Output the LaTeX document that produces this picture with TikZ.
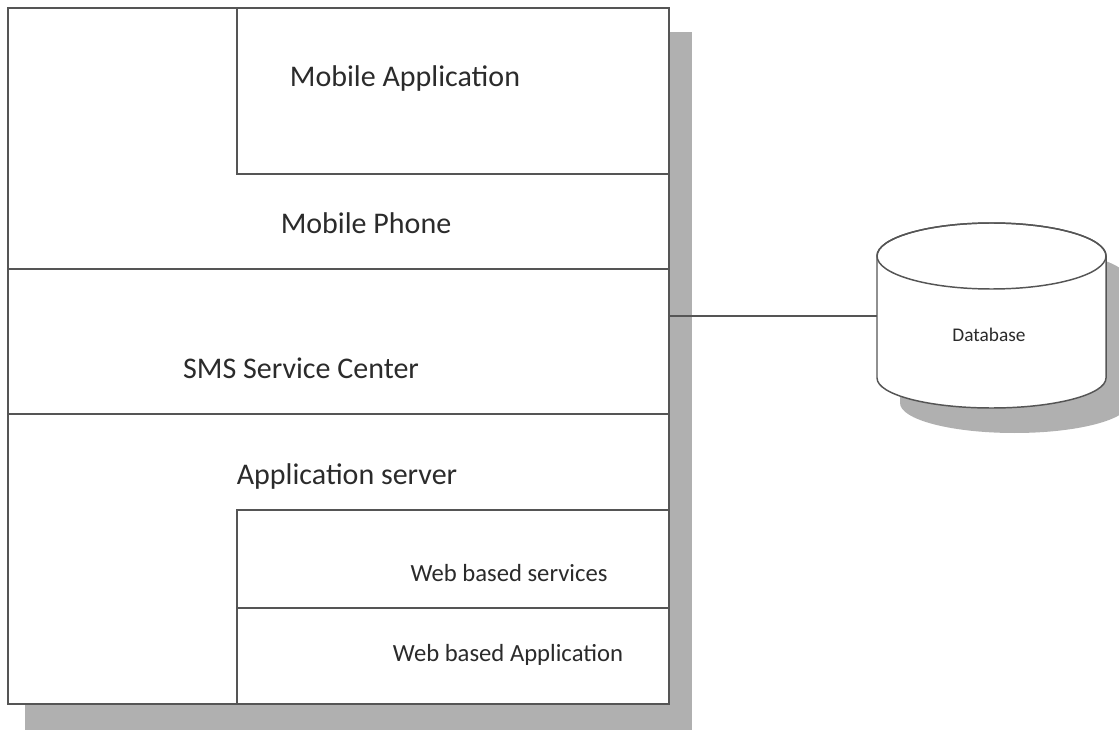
\documentclass[tikz,border=0pt]{standalone}
\usepackage{fontspec}
\setmainfont{Carlito}
\definecolor{shadowgray}{HTML}{B0B0B0}
\definecolor{edge}{HTML}{555555}
\definecolor{ink}{HTML}{2B2B2B}

\begin{document}
\begin{tikzpicture}[x=0.75pt,y=-0.75pt,line width=1.1pt,
    label/.style={text=ink,inner sep=0pt,font=\fontsize{22.5}{26}\selectfont},
    small/.style={text=ink,inner sep=0pt,font=\fontsize{18.5}{22}\selectfont},
    tiny/.style={text=ink,inner sep=0pt,font=\fontsize{14.5}{17}\selectfont}]
          \useasboundingbox (0,0) rectangle (1119,730);
          % Draw shadows
          \fill[shadowgray] (25,32) rectangle (692,730);
          \fill[shadowgray,shift={(23,25)}] (877,256) -- (877,378)
            arc[start angle=180,end angle=0,x radius=114.5,y radius=30]
            -- (1106,256) arc[start angle=0,end angle=-180,x radius=114.5,y radius=33] -- cycle;
          % Draw outer box (Mobile Phone / SMS / Application server)
          \draw[edge,fill=white] (8,8) rectangle (669,704);
          \draw[edge] (8,269) -- (669,269);
          \draw[edge] (8,414) -- (669,414);
          % Draw inner box (Mobile Application)
          \draw[edge] (237,8) -- (237,174) -- (669,174);
          % Draw inner boxes (Web based services / Application)
          \draw[edge] (237,704) -- (237,510) -- (669,510);
          \draw[edge] (237,608) -- (669,608);
          \node[label] (mobapp) at (405,79) {Mobile Application};
          \node[label] (phone) at (366,223) {Mobile Phone};
          \node[label] (smsc) at (301,368) {SMS Service Center};
          \node[label] (appsrv) at (347,477) {Application server};
          \node[small] (websrv) at (509,573) {Web based services};
          \node[small] (webapp) at (508,655) {Web based Application};
          % Draw database cylinder
          \draw[edge,fill=white] (877,256) -- (877,378)
            arc[start angle=180,end angle=0,x radius=114.5,y radius=30]
            -- (1106,256) arc[start angle=0,end angle=-180,x radius=114.5,y radius=33] -- cycle;
          \draw[edge] (991.5,256) ellipse[x radius=114.5,y radius=33];
          \node[tiny] (db) at (989,335) {Database};
          % Draw link
          \coordinate (stack-e) at (669,316);
          \coordinate (db-w) at (877,316);
          \draw[edge] (stack-e) -- (db-w);
        \end{tikzpicture}
\end{document}
